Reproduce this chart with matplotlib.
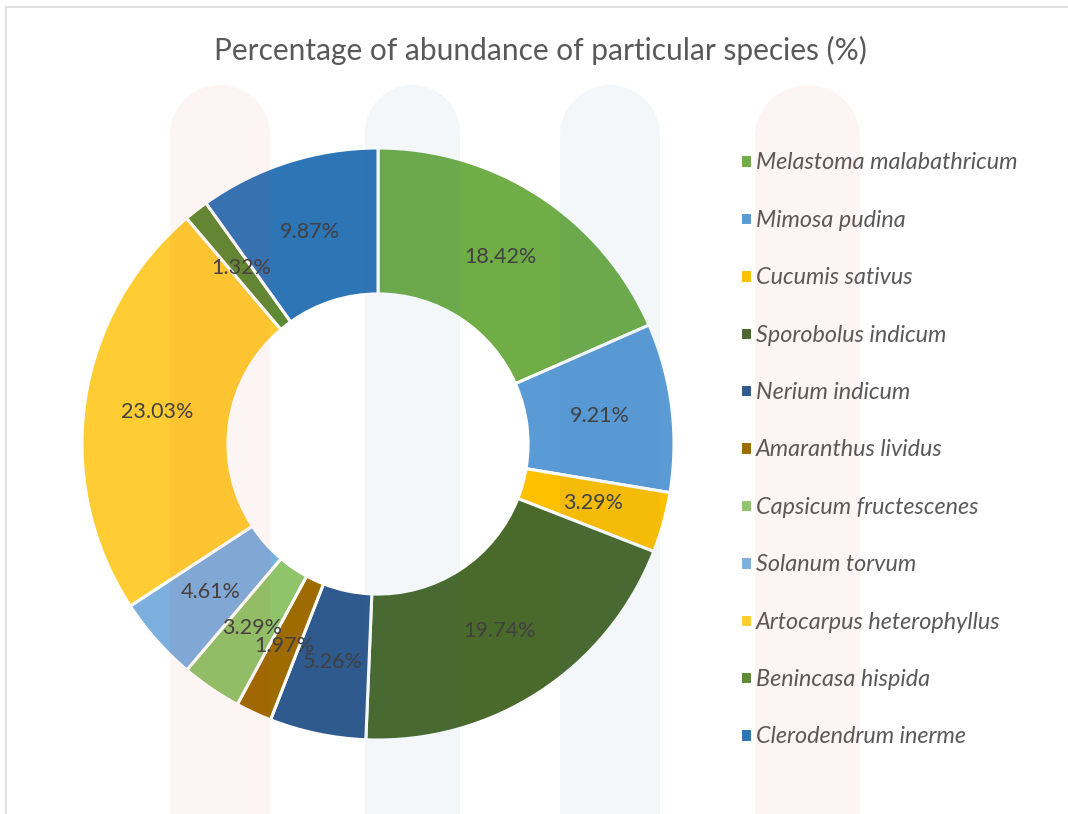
import matplotlib
matplotlib.use("Agg")
import numpy as np
import matplotlib.pyplot as plt
from matplotlib.patches import Polygon, Rectangle

species = ["Melastoma malabathricum", "Mimosa pudina", "Cucumis sativus",
           "Sporobolus indicum", "Nerium indicum", "Amaranthus lividus",
           "Capsicum fructescenes", "Solanum torvum", "Artocarpus heterophyllus",
           "Benincasa hispida", "Clerodendrum inerme"]
values = [18.42, 9.21, 3.29, 19.74, 5.26, 1.97, 3.29, 4.61, 23.03, 1.32, 9.87]
colors = ["#70AD47", "#5B9BD5", "#FFC000", "#4A6A2C", "#2F5A8E", "#9E6B00",
          "#8FC46A", "#7CAFDD", "#FFCD33", "#5E8A34", "#2E75B6"]
title = "Percentage of abundance of particular species (%)"

W, H = 1068, 814
fig = plt.figure(figsize=(W / 100, H / 100), dpi=100)
fig.patch.set_facecolor("white")

# chart frame
fig.add_artist(Rectangle((6 / W, -0.01), 1.1, 1 - 7 / H + 0.01, transform=fig.transFigure,
                         fill=False, edgecolor="#D9D9D9", linewidth=1.2))

cx, cy, R = 378, 444, 296
ax = fig.add_axes([(cx - R) / W, (H - cy - R) / H, 2 * R / W, 2 * R / H])
wedges, texts = ax.pie(values, colors=colors, startangle=90, counterclock=False, radius=1,
                       labels=[f"{v:.2f}%" for v in values], labeldistance=0.7535,
                       wedgeprops=dict(width=0.493, edgecolor="white", linewidth=2.2),
                       textprops=dict(fontsize=15.5, color="#404040", family="Lato"))
for t in texts:
    t.set_ha("center")
    t.set_va("center")
ax.set_xlim(-1, 1)
ax.set_ylim(-1, 1)
ax.set_aspect("equal")
ax.axis("off")

fig.text(540 / W, 1 - 50 / H, title, ha="center", va="center", fontsize=21.5,
         color="#595959", family="Lato")

leg = fig.legend(wedges, species, loc="upper left", bbox_to_anchor=(731 / W, 1 - 143 / H),
                 frameon=False, handlelength=0.5, handleheight=0.5, handletextpad=0.15,
                 labelspacing=1.56, borderaxespad=0,
                 prop=dict(family="Lato", style="italic", size=16.8))
for txt in leg.get_texts():
    txt.set_color("#595959")

# faint watermark overlay (rounded-top columns)
def column(x0, x1, top, color, alpha):
    r = (x1 - x0) / 2
    xc = (x0 + x1) / 2
    th = np.linspace(0, np.pi, 40)
    arc = [(xc + r * np.cos(t), top + r - r * np.sin(t)) for t in th]
    pts = [(x1, H + 5)] + arc + [(x0, H + 5)]
    fig.add_artist(Polygon([(x / W, 1 - y / H) for x, y in pts], closed=True,
                           transform=fig.transFigure, linewidth=0, zorder=10,
                           facecolor=color, alpha=alpha))
column(170, 270, 85, "#E03030", 0.05)
column(365, 460, 85, "#3070B0", 0.05)
column(560, 660, 85, "#3070B0", 0.05)
column(755, 860, 85, "#E03030", 0.05)

fig.savefig("out.png", dpi=100)
